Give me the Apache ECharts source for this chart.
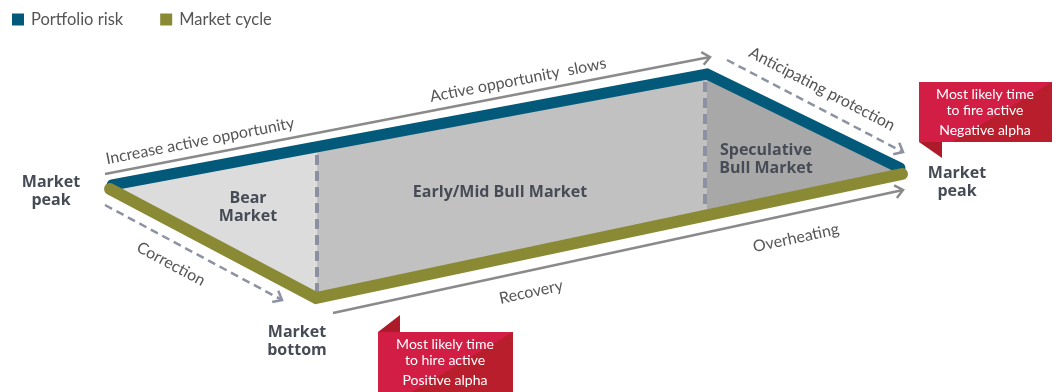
<!DOCTYPE html>
<html>
<head>
<meta charset="utf-8">
<script src="https://cdn.jsdelivr.net/npm/echarts@6/dist/echarts.min.js"></script>
<style>
html,body{margin:0;padding:0;background:#fff;}
#chart{width:1056px;height:392px;}
</style>
</head>
<body>
<div id="chart"></div>
<script>
// ---- data (diagram units: x = cycle progress, y = level, top-down) ----
var riskLine = [[112, 185], [707, 74], [900, 168]];           // Portfolio risk
var cycleLine = [[110, 189], [316, 298], [902, 174]];         // Market cycle
var phaseNames = ['Bear\nMarket', 'Early/Mid Bull Market', 'Speculative\nBull Market'];
var phaseShapes = [
  [[112, 187], [317, 147], [317, 298]],
  [[317, 147], [707, 74], [707, 216], [317, 298]],
  [[707, 74], [900, 168], [902, 174], [707, 216]]
];
var phaseBoundaries = [[[317, 155], [317, 293]], [[705, 82], [705, 211]]];
var arrowNames = ['Increase active opportunity', 'Active opportunity  slows', 'Anticipating protection', 'Correction', 'Recovery', 'Overheating'];
var arrowPaths = [[[105, 174], [710, 57]], [[727, 60], [903, 152]], [[105, 205], [282, 300]], [[333, 313], [903, 190]]];
var pointLabels = ['Market\npeak', 'Market\nbottom', 'Market\npeak'];
var callouts = [
  ['Most likely time\nto fire active', 'Negative alpha'],
  ['Most likely time\nto hire active', 'Positive alpha']
];

// ---- layout / style ----
var phaseFills = ['#dcdcdc', '#c1c1c1', '#a8a8a8'];
var phaseLabelPos = [[248, 207], [500, 192], [766, 159]];
var arrowStyles = [
  {dash: null, color: '#8a8a8a'},
  {dash: [8, 5], color: '#8d92a2'},
  {dash: [8, 5], color: '#8d92a2'},
  {dash: null, color: '#8a8a8a'}
];
// text: [arrowIndex, x, y]
var arrowTextPos = [[0, 200, 141], [0, 518, 80], [1, 822, 89], [2, 171, 264], [3, 531, 292], [3, 796, 238]];
var pointLabelPos = [[51, 191], [297, 341], [957, 182]];
var calloutBoxes = [
  {box: [919, 82, 1052, 142], tab: [[919, 142], [942, 142], [942, 158]], t1: [985, 102], t2: [985, 130]},
  {box: [378, 332, 513, 392], tab: [[378, 332], [400, 315], [400, 332]], t1: [445, 352], t2: [445, 380]}
];
var textColor = '#474b55';
var lightText = '#555555';
var boldFont = {fontFamily: 'Open Sans', fontWeight: 'bold', fontSize: 16, lineHeight: 18};

var chart = echarts.init(document.getElementById('chart'), null, {renderer: 'canvas'});

function chevron(api, p1, p2, size) {
  var a = api.coord(p1), b = api.coord(p2);
  var ang = Math.atan2(b[1] - a[1], b[0] - a[0]);
  var h = 0.7;
  return [
    [b[0] - size * Math.cos(ang - h), b[1] - size * Math.sin(ang - h)],
    b,
    [b[0] - size * Math.cos(ang + h), b[1] - size * Math.sin(ang + h)]
  ];
}

var option = {
  animation: false,
  backgroundColor: '#ffffff',
  grid: {left: 0, right: 0, top: 0, bottom: 0, containLabel: false},
  xAxis: {type: 'value', min: 0, max: 1056, show: false},
  yAxis: {type: 'value', min: 0, max: 392, inverse: true, show: false},
  legend: {
    data: ['Portfolio risk', 'Market cycle'],
    left: 12, top: 11, padding: 0, icon: 'rect', itemWidth: 12, itemHeight: 12, itemGap: 37,
    textStyle: {fontFamily: 'Lato', fontSize: 16.5, fontWeight: 400, color: lightText, padding: [0, 0, 0, 2]},
    selectedMode: false
  },
  series: [
    {
      type: 'custom', name: 'phases', silent: true, z: 1,
      data: phaseShapes.map(function (s, i) { return [s[0][0], s[0][1], i]; }),
      renderItem: function (params, api) {
        var i = params.dataIndex;
        return {
          type: 'polygon',
          shape: {points: phaseShapes[i].map(function (p) { return api.coord(p); })},
          style: {fill: phaseFills[i]}
        };
      }
    },
    {
      type: 'custom', name: 'boundaries', silent: true, z: 2,
      data: phaseBoundaries.map(function (s, i) { return [s[0][0], s[0][1], i]; }),
      renderItem: function (params, api) {
        var s = phaseBoundaries[params.dataIndex];
        return {
          type: 'polyline',
          shape: {points: s.map(function (p) { return api.coord(p); })},
          style: {stroke: '#8c90a0', lineWidth: 4, lineDash: [10, 6], fill: null}
        };
      }
    },
    {
      type: 'line', name: 'Portfolio risk', data: riskLine, z: 3, symbol: 'none', silent: true,
      color: '#03597a',
      lineStyle: {width: 11, color: '#03597a', cap: 'round', join: 'miter'}
    },
    {
      type: 'line', name: 'Market cycle', data: cycleLine, z: 4, symbol: 'none', silent: true,
      color: '#8a8a35',
      lineStyle: {width: 12, color: '#8a8a35', cap: 'round', join: 'miter'}
    },
    {
      type: 'custom', name: 'arrows', silent: true, z: 5,
      data: arrowPaths.map(function (s, i) { return [s[0][0], s[0][1], i]; }),
      renderItem: function (params, api) {
        var i = params.dataIndex, s = arrowPaths[i], st = arrowStyles[i];
        return {
          type: 'group',
          children: [
            {type: 'polyline', shape: {points: s.map(function (p) { return api.coord(p); })},
              style: {stroke: st.color, lineWidth: 2.5, lineDash: st.dash, fill: null}},
            {type: 'polyline', shape: {points: chevron(api, s[0], s[1], 10)},
              style: {stroke: st.color, lineWidth: 2.5, fill: null}}
          ]
        };
      }
    },
    {
      type: 'custom', name: 'arrowText', silent: true, z: 6,
      data: arrowTextPos.map(function (t, i) { return [t[1], t[2], i]; }),
      renderItem: function (params, api) {
        var t = arrowTextPos[params.dataIndex];
        var s = arrowPaths[t[0]];
        var a = api.coord(s[0]), b = api.coord(s[1]);
        var ang = Math.atan2(-(b[1] - a[1]), b[0] - a[0]);
        var c = api.coord([t[1], t[2]]);
        return {
          type: 'text', x: c[0], y: c[1], rotation: ang,
          style: {text: arrowNames[params.dataIndex], fontFamily: 'Lato', fontSize: 16, fontWeight: 400,
            fill: lightText, align: 'center', verticalAlign: 'middle'}
        };
      }
    },
    {
      type: 'custom', name: 'phaseLabels', silent: true, z: 6,
      data: phaseLabelPos.map(function (p, i) { return [p[0], p[1], i]; }),
      renderItem: function (params, api) {
        var c = api.coord(phaseLabelPos[params.dataIndex]);
        return {
          type: 'text', x: c[0], y: c[1],
          style: Object.assign({text: phaseNames[params.dataIndex], fill: textColor, align: 'center', verticalAlign: 'middle'}, boldFont)
        };
      }
    },
    {
      type: 'custom', name: 'pointLabels', silent: true, z: 6,
      data: pointLabelPos.map(function (p, i) { return [p[0], p[1], i]; }),
      renderItem: function (params, api) {
        var c = api.coord(pointLabelPos[params.dataIndex]);
        return {
          type: 'text', x: c[0], y: c[1],
          style: Object.assign({text: pointLabels[params.dataIndex], fill: textColor, align: 'center', verticalAlign: 'middle'}, boldFont)
        };
      }
    },
    {
      type: 'custom', name: 'callouts', silent: true, z: 7,
      data: calloutBoxes.map(function (b, i) { return [b.box[0], b.box[1], i]; }),
      renderItem: function (params, api) {
        var i = params.dataIndex, cb = calloutBoxes[i];
        var p0 = api.coord([cb.box[0], cb.box[1]]), p1 = api.coord([cb.box[2], cb.box[3]]);
        var w = p1[0] - p0[0];
        var t1 = api.coord(cb.t1), t2 = api.coord(cb.t2);
        return {
          type: 'group',
          children: [
            {type: 'rect', shape: {x: p0[0], y: p0[1], width: w, height: p1[1] - p0[1]}, style: {fill: '#d21e45'}},
            {type: 'polygon', shape: {points: [[p0[0] + w * 0.25, p1[1]], [p1[0], p0[1]], [p1[0], p1[1]]]}, style: {fill: '#b81e2b'}},
            {type: 'polygon', shape: {points: cb.tab.map(function (p) { return api.coord(p); })}, style: {fill: '#ad1b2b'}},
            {type: 'text', x: t1[0], y: t1[1], style: {text: callouts[i][0], fontFamily: 'Lato', fontSize: 14,
              lineHeight: 16, fill: '#ffffff', align: 'center', verticalAlign: 'middle'}},
            {type: 'text', x: t2[0], y: t2[1], style: {text: callouts[i][1], fontFamily: 'Lato', fontSize: 14,
              fill: '#ffffff', align: 'center', verticalAlign: 'middle'}}
          ]
        };
      }
    }
  ]
};
chart.setOption(option);
</script>
</body>
</html>
